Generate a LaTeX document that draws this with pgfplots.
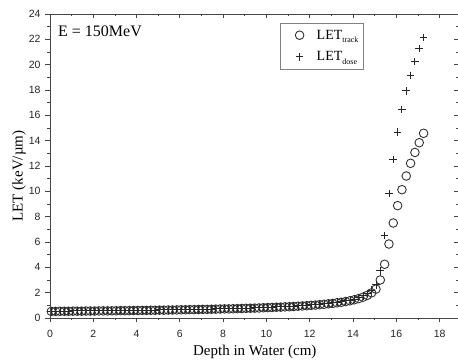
\documentclass[border=0pt]{standalone}
\usepackage{fontspec}
\setmainfont{Liberation Serif}
\newfontfamily\ticksfont{Liberation Sans}
\usepackage{pgfplots}
\pgfplotsset{compat=1.18}
\usepackage{pgfplotstable}

\pgfplotstableread{
x track dose
0.06 0.52 0.54
0.26 0.52 0.54
0.46 0.53 0.55
0.66 0.53 0.55
0.86 0.53 0.55
1.06 0.54 0.56
1.26 0.54 0.56
1.46 0.54 0.56
1.66 0.55 0.57
1.86 0.55 0.57
2.06 0.55 0.57
2.26 0.56 0.58
2.46 0.56 0.58
2.66 0.56 0.58
2.86 0.57 0.59
3.06 0.57 0.59
3.26 0.58 0.60
3.46 0.58 0.60
3.66 0.58 0.60
3.86 0.59 0.61
4.06 0.59 0.61
4.26 0.60 0.62
4.46 0.60 0.62
4.66 0.61 0.63
4.86 0.61 0.63
5.06 0.62 0.64
5.26 0.62 0.64
5.46 0.63 0.65
5.66 0.63 0.65
5.86 0.64 0.66
6.06 0.65 0.67
6.26 0.65 0.67
6.46 0.66 0.68
6.66 0.66 0.68
6.86 0.67 0.69
7.06 0.68 0.70
7.26 0.68 0.71
7.46 0.69 0.71
7.66 0.70 0.72
7.86 0.71 0.73
8.06 0.72 0.74
8.26 0.72 0.75
8.46 0.73 0.75
8.66 0.74 0.76
8.86 0.75 0.77
9.06 0.76 0.78
9.26 0.77 0.79
9.46 0.78 0.80
9.66 0.79 0.82
9.86 0.81 0.83
10.06 0.82 0.85
10.26 0.83 0.86
10.46 0.85 0.88
10.66 0.86 0.89
10.86 0.88 0.91
11.06 0.89 0.93
11.26 0.91 0.94
11.46 0.93 0.96
11.66 0.95 0.98
11.86 0.97 1.01
12.06 1.00 1.03
12.26 1.02 1.06
12.46 1.05 1.09
12.66 1.08 1.13
12.86 1.12 1.16
13.06 1.15 1.20
13.26 1.20 1.25
13.46 1.24 1.30
13.66 1.30 1.35
13.86 1.36 1.42
14.06 1.44 1.50
14.26 1.53 1.61
14.46 1.64 1.75
14.66 1.79 1.94
14.86 1.99 2.20
15.06 2.28 2.62
15.26 3.00 3.72
15.46 4.24 6.50
15.66 5.84 9.82
15.86 7.50 12.52
16.06 8.87 14.68
16.26 10.13 16.47
16.46 11.21 17.94
16.66 12.21 19.15
16.86 13.07 20.26
17.06 13.84 21.26
17.26 14.58 22.15
}\letdata

\definecolor{framegray}{RGB}{70,70,70}

\begin{document}
\begin{tikzpicture}
\pgfplotsset{
  commonaxis/.style={
    scale only axis, width=408pt, height=304pt,
    xmin=0, xmax=18.85, ymin=0, ymax=24,
    xtick={0,2,...,18}, ytick={0,2,...,24},
    minor x tick num=1, minor y tick num=1,
    major tick length=4.5pt, minor tick length=2.5pt,
    axis line style={framegray, line width=0.9pt},
    every tick/.style={framegray, line width=0.8pt},
    every minor tick/.style={framegray, line width=0.7pt},
  }
}
\begin{axis}[commonaxis,
  xtick pos=bottom, ytick pos=left, tick align=outside,
  /pgf/number format/assume math mode=true,
  ticklabel style={font=\fontsize{10.5}{12}\selectfont\ticksfont, text=black!85},
  xticklabel style={yshift=-4pt},
  yticklabel style={xshift=-1.5pt},
  xlabel={Depth in Water (cm)},
  ylabel={LET (keV/µm)},
  label style={font=\fontsize{15}{17}\selectfont},
  x label style={at={(axis description cs:0.502,0)}, yshift=-34pt, anchor=center},
  y label style={at={(axis description cs:-0.076,0.467)}, anchor=center},
  legend style={at={(0.564,0.972)}, anchor=north west, draw=gray, line width=0.8pt,
    font=\fontsize{14}{16}\selectfont, row sep=7pt, inner xsep=3pt, inner ysep=5pt,
    /tikz/every odd column/.append style={column sep=9pt}},
  legend image code/.code={\draw[#1] plot coordinates {(0.55cm,0cm)};\path (0cm,0cm) (0.75cm,0cm);},
  legend cell align=left,
]
\addplot[only marks, mark=o, mark size=4.3pt, draw=black!80, line width=0.9pt] table[x=x, y=track] {\letdata};
\addlegendentry{LET\raisebox{-0.6ex}{\fontsize{8}{8}\selectfont track}}
\addplot[only marks, mark=+, mark size=3.8pt, draw=black!85, line width=0.9pt] table[x=x, y=dose] {\letdata};
\addlegendentry{LET\raisebox{-0.6ex}{\fontsize{8}{8}\selectfont dose}}
\node[anchor=west, inner sep=0, font=\fontsize{16}{18}\selectfont] at (rel axis cs:0.0196,0.944) {E = 150MeV};
\coordinate (bl) at (rel axis cs:0,0);
\coordinate (tr) at (rel axis cs:1,1);
\end{axis}
\begin{axis}[commonaxis,
  xtick pos=top, ytick pos=right, tick align=inside,
  xticklabels={}, yticklabels={},
]
\end{axis}
\pgfresetboundingbox
\path[use as bounding box] ([xshift=-50pt,yshift=-42pt]bl) rectangle ([yshift=14pt]tr);
\end{tikzpicture}
\end{document}
